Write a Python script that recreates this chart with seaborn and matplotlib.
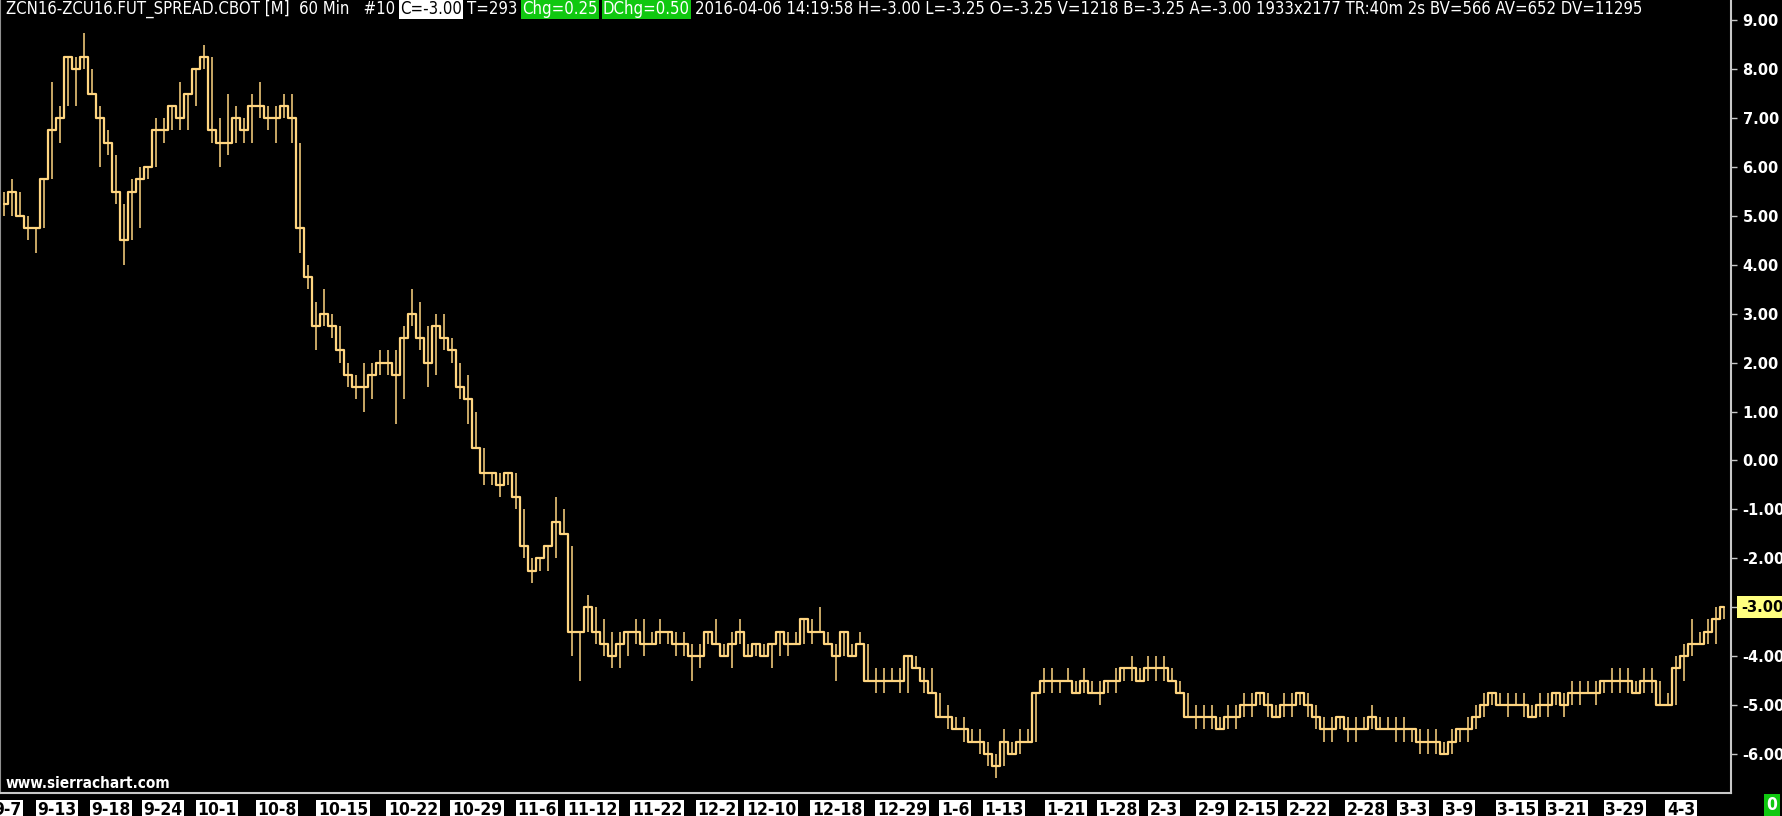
import numpy as np
import pandas as pd
import matplotlib
matplotlib.use("Agg")
import matplotlib.pyplot as plt
from matplotlib.transforms import IdentityTransform, offset_copy
import seaborn as sns

# 60 min bars, grouped into ~8px buckets
closes = [
    5.25, 5.5, 5.0, 4.75, 4.75, 5.75, 6.75, 7.0, 8.25, 8.0,
    8.25, 7.5, 7.0, 6.5, 5.5, 4.5, 5.5, 5.75, 6.0, 6.75,
    6.75, 7.25, 7.0, 7.5, 8.0, 8.25, 6.75, 6.5, 6.5, 7.0,
    6.75, 7.25, 7.25, 7.0, 7.0, 7.25, 7.0, 4.75, 3.75, 2.75,
    3.0, 2.75, 2.25, 1.75, 1.5, 1.5, 1.75, 2.0, 2.0, 1.75,
    2.5, 3.0, 2.5, 2.0, 2.75, 2.5, 2.25, 1.5, 1.25, 0.25,
    -0.25, -0.25, -0.5, -0.25, -0.75, -1.75, -2.25, -2.0, -1.75, -1.25,
    -1.5, -3.5, -3.5, -3.0, -3.5, -3.75, -4.0, -3.75, -3.5, -3.5,
    -3.75, -3.75, -3.5, -3.5, -3.75, -3.75, -4.0, -4.0, -3.5, -3.75,
    -4.0, -3.75, -3.5, -4.0, -3.75, -4.0, -3.75, -3.5, -3.75, -3.75,
    -3.25, -3.5, -3.5, -3.75, -4.0, -3.5, -4.0, -3.75, -4.5, -4.5,
    -4.5, -4.5, -4.5, -4.0, -4.25, -4.5, -4.75, -5.25, -5.25, -5.5,
    -5.5, -5.75, -5.75, -6.0, -6.25, -5.75, -6.0, -5.75, -5.75, -4.75,
    -4.5, -4.5, -4.5, -4.5, -4.75, -4.5, -4.75, -4.75, -4.5, -4.5,
    -4.25, -4.25, -4.5, -4.25, -4.25, -4.25, -4.5, -4.75, -5.25, -5.25,
    -5.25, -5.25, -5.5, -5.25, -5.25, -5.0, -5.0, -4.75, -5.0, -5.25,
    -5.0, -5.0, -4.75, -5.0, -5.25, -5.5, -5.5, -5.25, -5.5, -5.5,
    -5.5, -5.25, -5.5, -5.5, -5.5, -5.5, -5.5, -5.75, -5.75, -5.75,
    -6.0, -5.75, -5.5, -5.5, -5.25, -5.0, -4.75, -5.0, -5.0, -5.0,
    -5.0, -5.25, -5.0, -5.0, -4.75, -5.0, -4.75, -4.75, -4.75, -4.75,
    -4.5, -4.5, -4.5, -4.5, -4.75, -4.5, -4.5, -5.0, -5.0, -4.25,
    -4.0, -3.75, -3.75, -3.5, -3.25, -3.0,
]
highs = [
    5.5, 5.75, 5.5, 5.0, 4.75, 5.75, 7.75, 7.25, 8.25, 8.25,
    8.75, 8.0, 7.25, 6.75, 6.25, 5.25, 5.75, 6.0, 6.0, 7.0,
    7.0, 7.25, 7.75, 7.5, 8.0, 8.5, 8.25, 7.0, 7.5, 7.25,
    7.0, 7.5, 7.75, 7.25, 7.25, 7.5, 7.5, 6.5, 4.0, 3.25,
    3.5, 3.0, 2.75, 2.0, 1.75, 2.0, 2.0, 2.25, 2.25, 2.25,
    2.75, 3.5, 3.25, 2.75, 3.0, 3.0, 2.5, 2.0, 1.75, 1.0,
    0.25, -0.25, -0.25, -0.25, -0.25, -1.0, -2.0, -2.0, -1.75, -0.75,
    -1.0, -1.75, -3.5, -2.75, -3.0, -3.25, -3.5, -3.5, -3.5, -3.25,
    -3.25, -3.5, -3.25, -3.5, -3.5, -3.5, -3.75, -3.75, -3.5, -3.25,
    -3.75, -3.5, -3.25, -3.75, -3.75, -3.75, -3.75, -3.5, -3.5, -3.5,
    -3.25, -3.25, -3.0, -3.5, -3.75, -3.5, -3.75, -3.5, -3.75, -4.25,
    -4.25, -4.25, -4.25, -4.0, -4.0, -4.25, -4.25, -4.75, -5.0, -5.25,
    -5.25, -5.5, -5.5, -5.75, -6.0, -5.5, -5.75, -5.5, -5.5, -4.75,
    -4.25, -4.25, -4.5, -4.25, -4.5, -4.25, -4.5, -4.5, -4.5, -4.25,
    -4.25, -4.0, -4.25, -4.0, -4.0, -4.0, -4.25, -4.5, -4.75, -5.0,
    -5.0, -5.0, -5.25, -5.0, -5.0, -4.75, -4.75, -4.75, -4.75, -5.0,
    -4.75, -4.75, -4.75, -4.75, -5.0, -5.25, -5.25, -5.25, -5.25, -5.25,
    -5.25, -5.0, -5.25, -5.25, -5.25, -5.25, -5.5, -5.5, -5.5, -5.5,
    -5.75, -5.5, -5.5, -5.25, -5.0, -4.75, -4.75, -4.75, -4.75, -4.75,
    -4.75, -5.0, -4.75, -4.75, -4.75, -4.75, -4.5, -4.5, -4.5, -4.5,
    -4.5, -4.25, -4.25, -4.25, -4.5, -4.25, -4.25, -4.5, -4.75, -4.0,
    -3.75, -3.25, -3.5, -3.25, -3.0, -3.0,
]
lows = [
    5.0, 5.0, 5.0, 4.5, 4.25, 4.75, 5.75, 6.5, 7.25, 7.25,
    8.0, 7.5, 6.0, 6.25, 5.25, 4.0, 4.5, 4.75, 5.75, 6.0,
    6.5, 6.75, 6.75, 6.75, 7.25, 8.0, 6.5, 6.0, 6.25, 6.5,
    6.5, 6.5, 7.0, 6.75, 6.5, 7.0, 6.5, 4.25, 3.5, 2.25,
    2.75, 2.5, 2.0, 1.5, 1.25, 1.0, 1.25, 1.75, 1.75, 0.75,
    1.25, 2.75, 2.25, 1.5, 1.75, 2.25, 2.0, 1.25, 0.75, 0.25,
    -0.5, -0.5, -0.75, -0.5, -1.0, -2.0, -2.5, -2.25, -2.25, -2.0,
    -1.5, -4.0, -4.5, -3.5, -3.75, -4.0, -4.25, -4.25, -4.0, -3.75,
    -4.0, -3.75, -3.75, -3.75, -4.0, -4.0, -4.5, -4.25, -3.75, -3.75,
    -4.0, -4.25, -3.75, -4.0, -4.0, -4.0, -4.25, -4.0, -4.0, -3.75,
    -3.75, -3.75, -3.5, -3.75, -4.5, -4.0, -4.0, -3.75, -4.5, -4.75,
    -4.75, -4.5, -4.75, -4.75, -4.25, -4.75, -4.75, -5.25, -5.5, -5.5,
    -5.75, -5.75, -6.0, -6.25, -6.5, -6.25, -6.0, -6.0, -5.75, -5.75,
    -4.75, -4.75, -4.75, -4.5, -4.75, -4.75, -4.75, -5.0, -4.75, -4.75,
    -4.5, -4.5, -4.5, -4.5, -4.5, -4.5, -4.5, -4.75, -5.25, -5.5,
    -5.5, -5.5, -5.5, -5.5, -5.5, -5.25, -5.25, -5.0, -5.25, -5.25,
    -5.25, -5.25, -5.0, -5.25, -5.5, -5.75, -5.75, -5.5, -5.75, -5.75,
    -5.5, -5.5, -5.5, -5.5, -5.75, -5.75, -5.75, -6.0, -6.0, -6.0,
    -6.0, -6.0, -5.75, -5.75, -5.5, -5.25, -5.0, -5.0, -5.25, -5.0,
    -5.25, -5.25, -5.25, -5.25, -5.0, -5.25, -5.0, -5.0, -4.75, -5.0,
    -4.75, -4.75, -4.75, -4.75, -4.75, -4.75, -4.75, -5.0, -5.0, -5.0,
    -4.5, -4.0, -3.75, -3.75, -3.75, -3.25,
]

date_labels = ["9-7", "9-13", "9-18", "9-24", "10-1", "10-8", "10-15", "10-22",
               "10-29", "11-6", "11-12", "11-22", "12-2", "12-10", "12-18", "12-29",
               "1-6", "1-13", "1-21", "1-28", "2-3", "2-9", "2-15", "2-22", "2-28",
               "3-3", "3-9", "3-15", "3-21", "3-29", "4-3"]
date_bars = [0.375, 6.625, 13.375, 19.875, 26.625, 34.125, 42.375, 51.125,
             59.125, 66.625, 73.5, 81.625, 89.125, 95.875, 104.125, 112.25,
             118.875, 125.0, 132.75, 139.25, 145.0, 151.0, 156.625, 163.0, 170.25,
             176.125, 181.875, 189.125, 195.375, 202.625, 209.625]
price_ticks = [9, 8, 7, 6, 5, 4, 3, 2, 1, 0, -1, -2, -3, -4, -5, -6]
last_price = -3.00

header_parts = [
    ("ZCN16-ZCU16.FUT_SPREAD.CBOT [M]  60 Min   #10", "white", None),
    ("C=-3.00", "black", "white"),
    ("T=293", "white", None),
    ("Chg=0.25", "white", "#10c810"),
    ("DChg=0.50", "white", "#10c810"),
    ("2016-04-06 14:19:58 H=-3.00 L=-3.25 O=-3.25 V=1218 B=-3.25 A=-3.00 "
     "1933x2177 TR:40m 2s BV=566 AV=652 DV=11295", "white", None),
]

df = pd.DataFrame({"bar": np.arange(len(closes)), "close": closes,
                   "high": highs, "low": lows})

sns.set_style("dark")
plt.rcParams["font.family"] = ["DejaVu Sans"]
gold = "#ffd580"
axis_col = "#c8c8c8"

W, H = 1783, 816
fig = plt.figure(figsize=(W / 100, H / 100), dpi=100, facecolor="black")
ax = fig.add_axes([0, 23 / H, 1731 / W, 793 / H])
ax.set_facecolor("black")

ax.vlines(df["bar"], df["low"], df["high"], color=gold, lw=1.1)
sns.lineplot(data=df, x="bar", y="close", drawstyle="steps-mid", color=gold,
             lw=1.6, estimator=None, ax=ax)

ax.set_xlim(-0.5, 215.875)
ax.set_ylim(-6.80, 9.417)
ax.grid(False)
ax.set_xlabel("")
ax.set_ylabel("")

ax.spines["top"].set_visible(False)
ax.spines["left"].set_color("#909090")
for side in ["right", "bottom"]:
    ax.spines[side].set_color(axis_col)
    ax.spines[side].set_linewidth(1.5)

ax.yaxis.tick_right()
ax.set_yticks(price_ticks)
ax.set_yticklabels(["" if v == last_price else f"{v:.2f}" for v in price_ticks])
ax.tick_params(axis="y", direction="out", length=4, width=1, color=axis_col,
               labelcolor="white", labelsize=10.5, pad=4.3)
for lbl in ax.get_yticklabels():
    lbl.set_fontweight("bold")

ax.set_xticks(date_bars)
ax.set_xticklabels(date_labels)
ax.tick_params(axis="x", direction="out", length=4, width=1, color=axis_col,
               labelcolor="black", labelsize=12.5, pad=2.0)
for lbl in ax.get_xticklabels():
    lbl.set_fontweight("bold")
    lbl.set_fontstretch("condensed")
    lbl.set_bbox(dict(facecolor="white", edgecolor="none", pad=1.2))

# last price marker on the scale
ax.text(1.0, last_price, f"{last_price:.2f}",
        transform=offset_copy(ax.get_yaxis_transform(), fig=fig, x=10, y=0, units="dots"),
        ha="left", va="center", fontsize=10.5, fontweight="bold", color="black",
        clip_on=False, zorder=6,
        bbox=dict(facecolor="#ffff80", edgecolor="none", pad=2.5))

fig.text(1772 / W, 1 - 805 / H, "0", ha="center", va="center", color="white",
         fontsize=12.5, fontweight="bold", fontstretch="condensed",
         bbox=dict(facecolor="#10c810", edgecolor="none", pad=1.8))
fig.text(6 / W, 1 - 784 / H, "www.sierrachart.com", ha="left", va="center",
         color="white", fontsize=11, fontweight="bold", fontstretch="condensed")

# header line, laid out piece by piece
fig.canvas.draw()
r = fig.canvas.get_renderer()
x = 6
for s, fg, bg in header_parts:
    t = fig.text(x, H - 9, s, transform=IdentityTransform(), color=fg,
                 fontsize=12, fontstretch="condensed", ha="left", va="center")
    if bg:
        t.set_bbox(dict(facecolor=bg, edgecolor="none", pad=0.8))
    x = t.get_window_extent(r).x1 + 5

fig.savefig("out.png", dpi=100, facecolor="black")
